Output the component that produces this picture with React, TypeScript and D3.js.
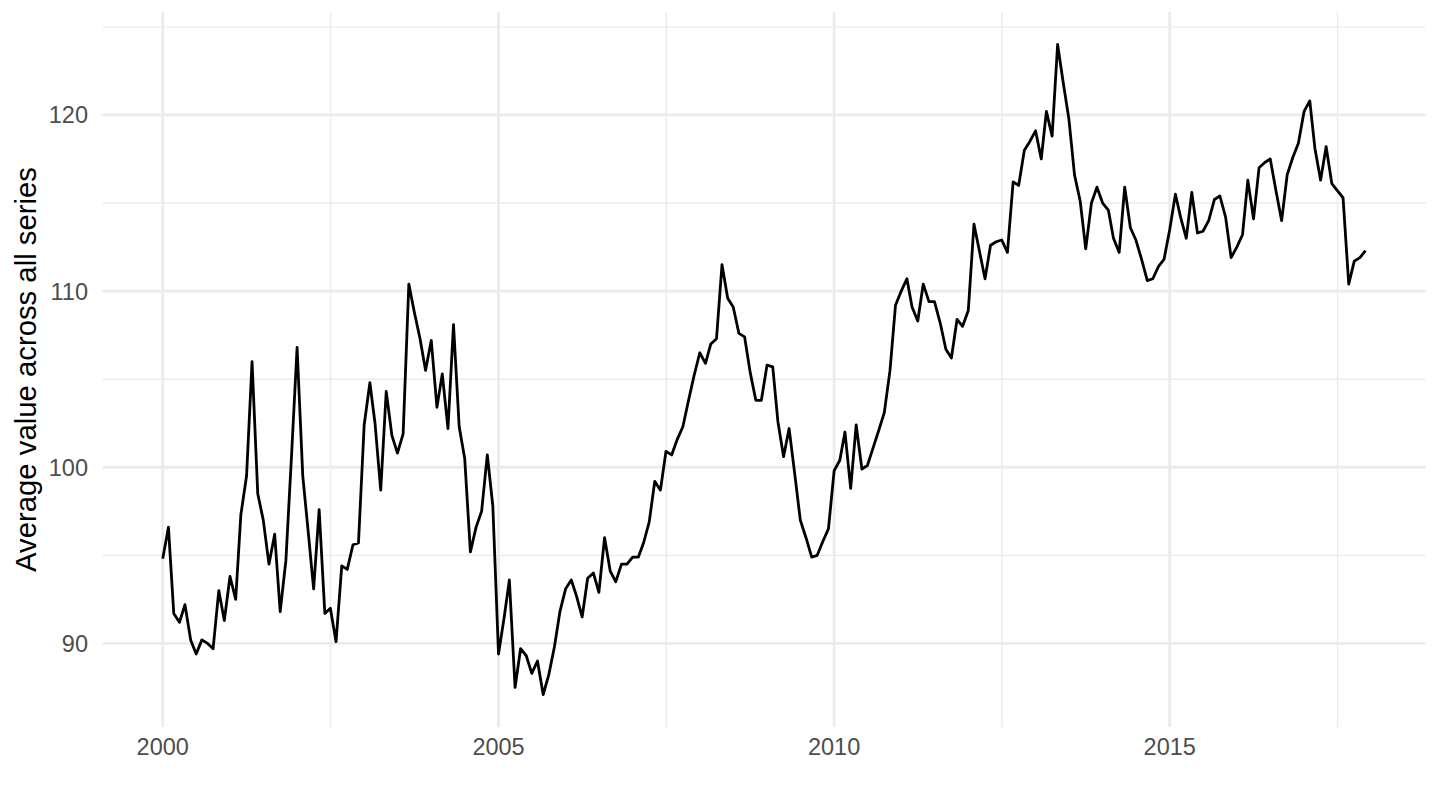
import React, { useEffect, useRef } from 'react';
import * as d3 from 'd3';

// Monthly averages, Jan 2000 .. Dec 2017 (one row per year)
const startYear = 2000;
const monthlyValues = [
  94.8, 96.6, 91.7, 91.2, 92.2, 90.2, 89.4, 90.2, 90.0, 89.7, 93.0, 91.3,
  93.8, 92.5, 97.3, 99.5, 106.0, 98.5, 97.0, 94.5, 96.2, 91.8, 94.7, 100.5,
  106.8, 99.5, 96.5, 93.1, 97.6, 91.7, 92.0, 90.1, 94.4, 94.2, 95.6, 95.7,
  102.4, 104.8, 102.5, 98.7, 104.3, 101.8, 100.8, 101.9, 110.4, 108.8, 107.3, 105.5,
  107.2, 103.4, 105.3, 102.2, 108.1, 102.3, 100.5, 95.2, 96.6, 97.5, 100.7, 97.8,
  89.4, 91.5, 93.6, 87.5, 89.7, 89.3, 88.3, 89.0, 87.1, 88.2, 89.8, 91.8,
  93.1, 93.6, 92.7, 91.5, 93.7, 94.0, 92.9, 96.0, 94.1, 93.5, 94.5, 94.5,
  94.9, 94.9, 95.7, 96.9, 99.2, 98.7, 100.9, 100.7, 101.6, 102.3, 103.8, 105.2,
  106.5, 105.9, 107.0, 107.3, 111.5, 109.6, 109.1, 107.6, 107.4, 105.4, 103.8, 103.8,
  105.8, 105.7, 102.6, 100.6, 102.2, 99.6, 97.0, 96.0, 94.9, 95.0, 95.8, 96.5,
  99.8, 100.4, 102.0, 98.8, 102.4, 99.9, 100.1, 101.1, 102.1, 103.1, 105.5, 109.2,
  110.0, 110.7, 109.1, 108.3, 110.4, 109.4, 109.4, 108.2, 106.7, 106.2, 108.4, 108.0,
  108.9, 113.8, 112.3, 110.7, 112.6, 112.8, 112.9, 112.2, 116.2, 116.0, 118.0, 118.5,
  119.1, 117.5, 120.2, 118.8, 124.0, 121.8, 119.8, 116.6, 115.1, 112.4, 115.0, 115.9,
  115.0, 114.6, 113.0, 112.2, 115.9, 113.6, 112.9, 111.8, 110.6, 110.7, 111.4, 111.8,
  113.5, 115.5, 114.2, 113.0, 115.6, 113.3, 113.4, 114.0, 115.2, 115.4, 114.2, 111.9,
  112.5, 113.2, 116.3, 114.1, 117.0, 117.3, 117.5, 115.7, 114.0, 116.6, 117.6, 118.4,
  120.2, 120.8, 118.1, 116.3, 118.2, 116.1, 115.7, 115.3, 110.4, 111.7, 111.9, 112.3,
];

const yTicks = [90, 100, 110, 120];
const yMinorTicks = [95, 105, 115, 125];
const xTickYears = [2000, 2005, 2010, 2015];
const xMinorYears = [2000, 2005, 2010, 2015, 2020];
const yTitle = 'Average value across all series';

const App: React.FC = () => {
  const svgRef = useRef<SVGSVGElement>(null);

  useEffect(() => {
    if (!svgRef.current) return;

    const svg = d3.select(svgRef.current);
    svg.selectAll('*').remove();

    const font = '"Liberation Sans", Arial, Helvetica, sans-serif';
    const panel = { left: 102.6, right: 1425.6, top: 12, bottom: 727 };

    const data = monthlyValues.map((v, i) => ({
      date: new Date(startYear, i, 1),
      value: v,
    }));

    // ggplot-style 5% expansion on both axes
    const [t0, t1] = d3.extent(data, d => d.date.getTime()) as [number, number];
    const tPad = (t1 - t0) * 0.05;
    const x = d3.scaleTime()
      .domain([new Date(t0 - tPad), new Date(t1 + tPad)])
      .range([panel.left, panel.right]);

    const [v0, v1] = d3.extent(data, d => d.value) as [number, number];
    const vPad = (v1 - v0) * 0.05;
    const y = d3.scaleLinear()
      .domain([v0 - vPad, v1 + vPad])
      .range([panel.bottom, panel.top]);

    const grid = svg.append('g');
    const gridColor = '#EBEBEB';

    // minor grid
    grid.selectAll('line.ymin')
      .data(yMinorTicks.filter(d => d >= y.domain()[0] && d <= y.domain()[1]))
      .join('line')
      .attr('x1', panel.left).attr('x2', panel.right)
      .attr('y1', d => y(d)).attr('y2', d => y(d))
      .attr('stroke', gridColor).attr('stroke-width', 1.4);

    const minorDates = d3.pairs(xMinorYears).map(([a, b]) =>
      new Date((new Date(a, 0, 1).getTime() + new Date(b, 0, 1).getTime()) / 2));
    grid.selectAll('line.xmin')
      .data(minorDates.filter(d => d >= x.domain()[0] && d <= x.domain()[1]))
      .join('line')
      .attr('y1', panel.top).attr('y2', panel.bottom)
      .attr('x1', d => x(d)).attr('x2', d => x(d))
      .attr('stroke', gridColor).attr('stroke-width', 1.4);

    // major grid
    grid.selectAll('line.ymaj')
      .data(yTicks)
      .join('line')
      .attr('x1', panel.left).attr('x2', panel.right)
      .attr('y1', d => y(d)).attr('y2', d => y(d))
      .attr('stroke', gridColor).attr('stroke-width', 2.8);

    grid.selectAll('line.xmaj')
      .data(xTickYears)
      .join('line')
      .attr('y1', panel.top).attr('y2', panel.bottom)
      .attr('x1', d => x(new Date(d, 0, 1))).attr('x2', d => x(new Date(d, 0, 1)))
      .attr('stroke', gridColor).attr('stroke-width', 2.8);

    // the series
    const line = d3.line<{ date: Date; value: number }>()
      .x(d => x(d.date))
      .y(d => y(d.value));

    svg.append('path')
      .datum(data)
      .attr('fill', 'none')
      .attr('stroke', '#000')
      .attr('stroke-width', 2.8)
      .attr('stroke-linejoin', 'round')
      .attr('d', line);

    // tick labels
    svg.append('g')
      .selectAll('text')
      .data(yTicks)
      .join('text')
      .attr('x', 88)
      .attr('y', d => y(d))
      .attr('dy', '0.36em')
      .attr('text-anchor', 'end')
      .style('font-family', font)
      .style('font-size', '23.5px')
      .style('fill', '#4D4D4D')
      .text(d => d);

    svg.append('g')
      .selectAll('text')
      .data(xTickYears)
      .join('text')
      .attr('x', d => x(new Date(d, 0, 1)))
      .attr('y', 755)
      .attr('text-anchor', 'middle')
      .style('font-family', font)
      .style('font-size', '23.5px')
      .style('fill', '#4D4D4D')
      .text(d => d);

    // y-axis title
    svg.append('text')
      .attr('transform', `translate(36,${(panel.top + panel.bottom) / 2}) rotate(-90)`)
      .attr('text-anchor', 'middle')
      .style('font-family', font)
      .style('font-size', '29.3px')
      .style('fill', '#000')
      .text(yTitle);
  }, []);

  return (
    <div style={{ position: 'absolute', left: 0, top: 0, background: '#fff' }}>
      <svg ref={svgRef} width={1440} height={810} viewBox="0 0 1440 810" style={{ display: 'block' }} />
    </div>
  );
};

export default App;
